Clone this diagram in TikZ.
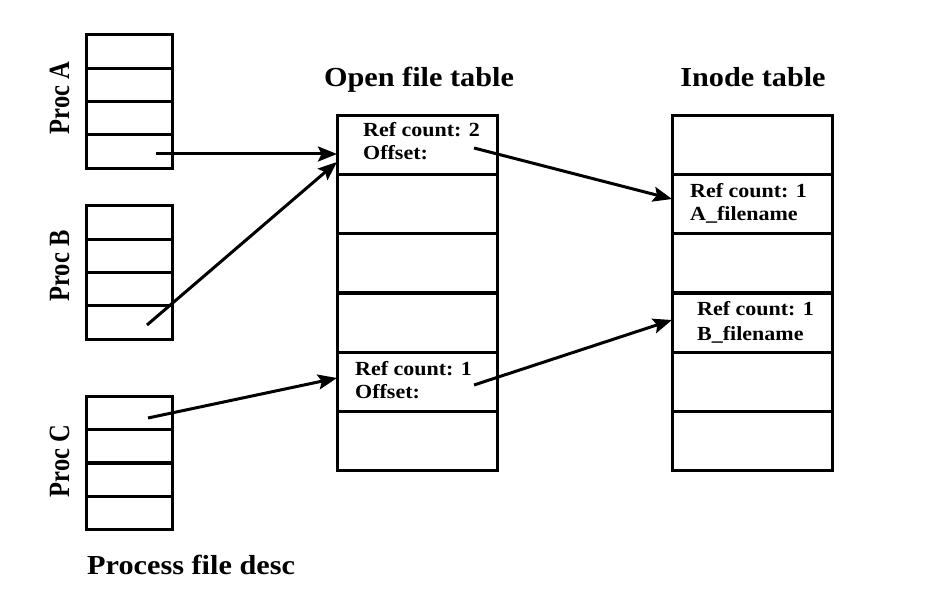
\documentclass[tikz,border=0pt]{standalone}
\usepackage{fontspec}
\usepackage{graphicx}
\setmainfont{Liberation Serif}[FakeStretch=1.1]
\newfontfamily\rotfont{Liberation Serif}
\usetikzlibrary{arrows.meta}
\begin{document}
\begin{tikzpicture}[x=1pt,y=-1pt,
  pcell/.style={draw,line width=3pt,minimum width=86pt,minimum height=33.3pt,inner sep=0pt,outer sep=0pt},
  tcell/.style={draw,line width=3pt,minimum width=160pt,minimum height=59.3pt,inner sep=0pt,outer sep=0pt},
  celltext/.style={anchor=base west,inner sep=0pt,font=\fontsize{20}{23}\selectfont\bfseries},
  title/.style={anchor=base,inner sep=0pt,font=\fontsize{27.5}{30}\selectfont\bfseries},
  proclabel/.style={anchor=base,rotate=90,inner sep=0pt,font=\rotfont\fontsize{24.5}{28}\selectfont\bfseries},
  conn/.style={line width=3pt,-{Stealth[length=19pt,width=15pt,inset=3.5pt]}}]
\useasboundingbox (0,0) rectangle (939,596);
% process descriptor tables
\foreach \i in {1,...,4}{
  \node[pcell] (pa\i) at (129,{35+33.25*(\i-0.5)}) {};
  \node[pcell] (pb\i) at (129,{206+33.25*(\i-0.5)}) {};
  \node[pcell] (pc\i) at (129,{396+33.5*(\i-0.5)}) {};
}
% open file table and inode table
\foreach \i in {1,...,6}{
  \node[tcell] (o\i) at (417,{115+59.33*(\i-0.5)}) {};
  \node[tcell] (n\i) at (752,{115+59.33*(\i-0.5)}) {};
}
% labels
\node[proclabel] (la) at (69,98) {\scalebox{1}[1.2]{Proc A}};
\node[proclabel] (lb) at (69,266) {\scalebox{1}[1.2]{Proc B}};
\node[proclabel] (lc) at (69,461) {\scalebox{1}[1.2]{Proc C}};
\node[anchor=base west,inner sep=0pt,font=\fontsize{27.5}{30}\selectfont\bfseries] (pfd) at (87,574) {Process file desc};
\node[title] (tof) at (419,87) {Open file table};
\node[title] (tin) at (753,87) {Inode table};
% cell texts
\node[celltext] (o1a) at (363,137) {Ref count: 2};
\node[celltext] (o1b) at (363,160) {Offset:};
\node[celltext] (o5a) at (355,375) {Ref count: 1};
\node[celltext] (o5b) at (355,398) {Offset:};
\node[celltext] (n2a) at (690,197) {Ref count: 1};
\node[celltext] (n2b) at (690,220) {A\_filename};
\node[celltext] (n4a) at (697,315) {Ref count: 1};
\node[celltext] (n4b) at (697,340) {B\_filename};
% connector end points
\coordinate (sa) at (156,154);
\coordinate (ea) at (337,154);
\coordinate (sb) at (147,325);
\coordinate (eb) at (337,162);
\coordinate (sc) at (148,418);
\coordinate (ec) at (337,378);
\coordinate (so1) at (474,148);
\coordinate (en2) at (672,199);
\coordinate (so5) at (474,385);
\coordinate (en4) at (672,320);
\draw[conn] (sa) -- (ea);
\draw[conn] (sb) -- (eb);
\draw[conn] (sc) -- (ec);
\draw[conn] (so1) -- (en2);
\draw[conn] (so5) -- (en4);
\end{tikzpicture}
\end{document}
